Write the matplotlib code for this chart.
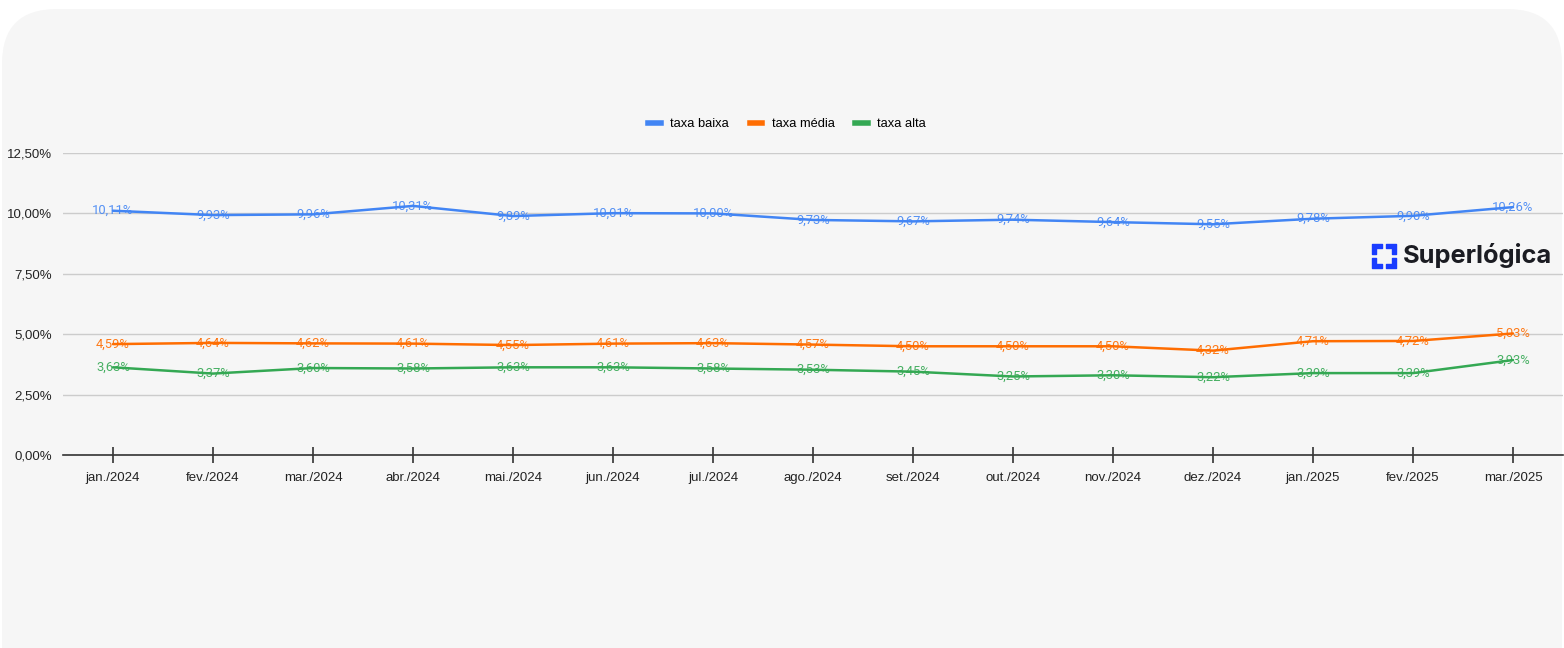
import matplotlib.pyplot as plt
from matplotlib.patches import FancyBboxPatch, Polygon
from matplotlib.lines import Line2D

months = ['jan./2024', 'fev./2024', 'mar./2024', 'abr./2024', 'mai./2024',
          'jun./2024', 'jul./2024', 'ago./2024', 'set./2024', 'out./2024',
          'nov./2024', 'dez./2024', 'jan./2025', 'fev./2025', 'mar./2025']
taxa_baixa = [10.11, 9.93, 9.96, 10.31, 9.89, 10.01, 10.00, 9.73, 9.67,
              9.74, 9.64, 9.55, 9.78, 9.90, 10.26]
taxa_media = [4.59, 4.64, 4.62, 4.61, 4.55, 4.61, 4.63, 4.57, 4.50, 4.50,
              4.50, 4.32, 4.71, 4.72, 5.03]
taxa_alta = [3.63, 3.37, 3.60, 3.58, 3.63, 3.63, 3.58, 3.53, 3.45, 3.25,
             3.30, 3.22, 3.39, 3.39, 3.93]
y_ticks = [0, 2.5, 5, 7.5, 10, 12.5]

series = [('taxa baixa', taxa_baixa, '#4285f4'),
          ('taxa média', taxa_media, '#ff6d01'),
          ('taxa alta', taxa_alta, '#34a853')]

W, H = 1564, 648
fig = plt.figure(figsize=(W / 100, H / 100), dpi=100)
fig.patch.set_facecolor('white')

# rounded card background
card = FancyBboxPatch((2 / W, -60 / H), 1560 / W, (H + 60 - 9) / H,
                      boxstyle='round,pad=0,rounding_size=0.035',
                      transform=fig.transFigure, facecolor='#f6f6f6',
                      edgecolor='none', mutation_aspect=W / H, zorder=-5)
fig.patches.append(card)

ax = fig.add_axes([63 / W, (H - 455) / H, 1500 / W, 302 / H])
ax.set_facecolor('none')
ax.set_zorder(2)
x = list(range(len(months)))

for name, vals, col in series:
    ax.plot(x, vals, color=col, lw=1.8, label=name, zorder=3,
            solid_capstyle='round')
    for xi, v in zip(x, vals):
        ax.text(xi, v, f'{v:.2f}%'.replace('.', ','), color=col,
                fontsize=9.4, ha='center', va='center', zorder=4,
                family=['Roboto', 'DejaVu Sans'], alpha=0.9)

ax.set_xlim(-0.5, len(months) - 0.5)
ax.set_ylim(0, 12.5)
ax.set_yticks(y_ticks)
ax.set_yticklabels([f'{t:.2f}%'.replace('.', ',') for t in y_ticks],
                   fontsize=9.5, color='#222222', family='Liberation Sans')
ax.yaxis.grid(True, color='#cccccc', lw=1)
ax.set_axisbelow(True)
ax.tick_params(axis='y', length=0, pad=8)
ax.set_xticks(x)
ax.set_xticklabels(months, fontsize=9.5, color='#222222', family='Liberation Sans')
ax.tick_params(axis='x', direction='inout', length=12, width=1.2,
               color='#333333', pad=6)
for s in ['top', 'right', 'left']:
    ax.spines[s].set_visible(False)
ax.spines['bottom'].set_color('#333333')
ax.spines['bottom'].set_linewidth(1.2)
ax.spines['bottom'].set_zorder(5)

handles = [Line2D([0], [0], color=c, lw=4) for _, _, c in series]
fig.legend(handles, [n for n, _, _ in series], loc='center',
           bbox_to_anchor=(787 / W, (H - 124) / H), ncol=3, frameon=False,
           handlelength=1.0, handletextpad=0.7, columnspacing=1.6,
           prop={'family': 'Liberation Sans', 'size': 9.3})

# logo
fig.text(1403 / W, (H - 256) / H, 'Superlógica', fontsize=18.3, fontweight='bold',
         color='#1b1c22', va='center', ha='left', family='Inter')
cx, cy, r = 1384, 256, 12
blue = '#1a3cff'
for dx, dy in [(-1, -1), (1, -1), (1, 1), (-1, 1)]:
    pts = [(cx + dx * r, cy + dy * r), (cx + dx * r - dx * 10, cy + dy * r),
           (cx + dx * r - dx * 10, cy + dy * r - dy * 4),
           (cx + dx * r - dx * 4, cy + dy * r - dy * 4),
           (cx + dx * r - dx * 4, cy + dy * r - dy * 10),
           (cx + dx * r, cy + dy * r - dy * 10)]
    pts = [(px / W, (H - py) / H) for px, py in pts]
    fig.patches.append(Polygon(pts, closed=True, transform=fig.transFigure,
                               facecolor=blue, edgecolor=blue, lw=1,
                               joinstyle='round', zorder=5))

fig.savefig('out.png', dpi=100, facecolor=fig.get_facecolor())
